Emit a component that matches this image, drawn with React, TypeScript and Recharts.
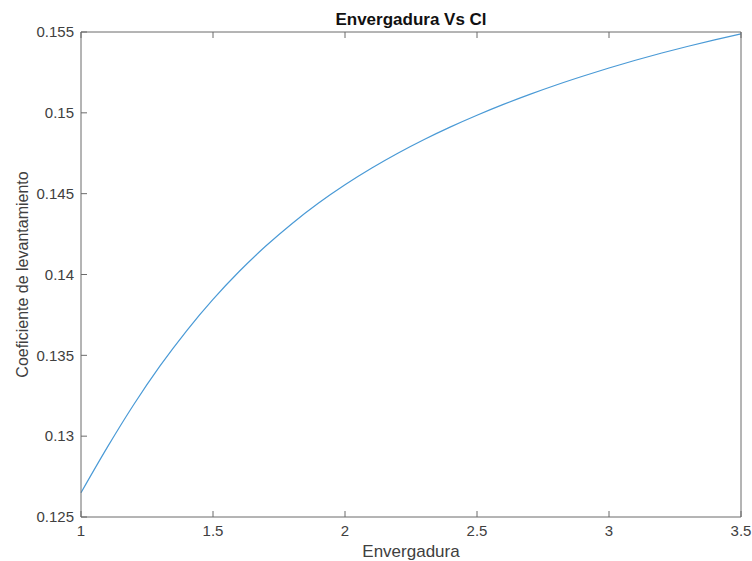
import React from 'react';
import { LineChart, Line, XAxis, YAxis, Label } from 'recharts';

// envergadura vs coeficiente de levantamiento
const envergadura = [1.0, 1.1, 1.2, 1.3, 1.4, 1.5, 1.6, 1.7, 1.8, 1.9, 2.0, 2.1, 2.2, 2.3, 2.4, 2.5, 2.6, 2.7, 2.8, 2.9, 3.0, 3.1, 3.2, 3.3, 3.4, 3.5];
const cl = [0.1265, 0.12932, 0.13196, 0.13436, 0.13652, 0.13846, 0.1402, 0.14176, 0.14316, 0.14442, 0.14555, 0.14657, 0.1475, 0.14835, 0.14913, 0.14985, 0.15052, 0.15114, 0.15172, 0.15226, 0.15277, 0.15325, 0.1537, 0.15412, 0.15451, 0.15488];

const xTicks = [1, 1.5, 2, 2.5, 3, 3.5];
const yTicks = [0.125, 0.13, 0.135, 0.14, 0.145, 0.15, 0.155];

const data = envergadura.map((x, i) => ({ x, cl: cl[i] }));

const font = '"Liberation Sans", Arial, Helvetica, sans-serif';
const axisColor = '#6b6b6b';
const textColor = '#404040';
const TICK = 6;

// Octave-style inward ticks; the axis gives tickSize 0 so x/y sit on the axis line
function BottomTick({ x, y, payload }: any) {
  return (
    <g>
      <line x1={x} y1={y} x2={x} y2={y - TICK} stroke={axisColor} />
      <text x={x} y={y + 19} textAnchor="middle" fill={textColor} fontSize={15} fontFamily={font}>{payload.value}</text>
    </g>
  );
}
function LeftTick({ x, y, payload }: any) {
  return (
    <g>
      <line x1={x} y1={y} x2={x + TICK} y2={y} stroke={axisColor} />
      <text x={x - 7} y={y + 5.3} textAnchor="end" fill={textColor} fontSize={15} fontFamily={font}>{payload.value}</text>
    </g>
  );
}
function TopTick({ x, y }: any) {
  return <line x1={x} y1={y} x2={x} y2={y + TICK} stroke={axisColor} />;
}
function RightTick({ x, y }: any) {
  return <line x1={x} y1={y} x2={x - TICK} y2={y} stroke={axisColor} />;
}

export default function App() {
  return (
    <div style={{ position: 'absolute', left: 0, top: 0, width: 752, height: 561, background: '#fff', fontFamily: font }}>
      <div style={{ position: 'absolute', left: 81, width: 660, top: 11, lineHeight: '17px', textAlign: 'center', fontSize: 17, fontWeight: 'bold', color: '#111' }}>
        Envergadura Vs Cl
      </div>
      <LineChart width={752} height={561} data={data} margin={{ top: 31, right: 10, left: 0, bottom: 0 }}>
        <XAxis xAxisId="b" dataKey="x" type="number" domain={[1, 3.5]} ticks={xTicks} height={44}
          stroke={axisColor} tickLine={false} tickSize={0} tickMargin={0} tick={<BottomTick />}>
          <Label value="Envergadura" position="insideBottom" offset={4} style={{ fill: textColor, fontSize: 17, fontFamily: font }} />
        </XAxis>
        <XAxis xAxisId="t" orientation="top" dataKey="x" type="number" domain={[1, 3.5]} ticks={xTicks} height={1}
          stroke={axisColor} tickLine={false} tickSize={0} tickMargin={0} tick={<TopTick />} />
        <YAxis yAxisId="l" type="number" domain={[0.125, 0.155]} ticks={yTicks} width={81}
          stroke={axisColor} tickLine={false} tickSize={0} tickMargin={0} tick={<LeftTick />}>
          <Label value="Coeficiente de levantamiento" angle={-90} position="insideLeft" offset={22}
            style={{ textAnchor: 'middle', fill: textColor, fontSize: 16, fontFamily: font }} />
        </YAxis>
        <YAxis yAxisId="r" orientation="right" type="number" domain={[0.125, 0.155]} ticks={yTicks} width={1}
          stroke={axisColor} tickLine={false} tickSize={0} tickMargin={0} tick={<RightTick />} />
        <Line xAxisId="b" yAxisId="l" type="monotone" dataKey="cl" stroke="#4a9ad6" strokeWidth={1.2}
          dot={false} isAnimationActive={false} />
      </LineChart>
    </div>
  );
}
